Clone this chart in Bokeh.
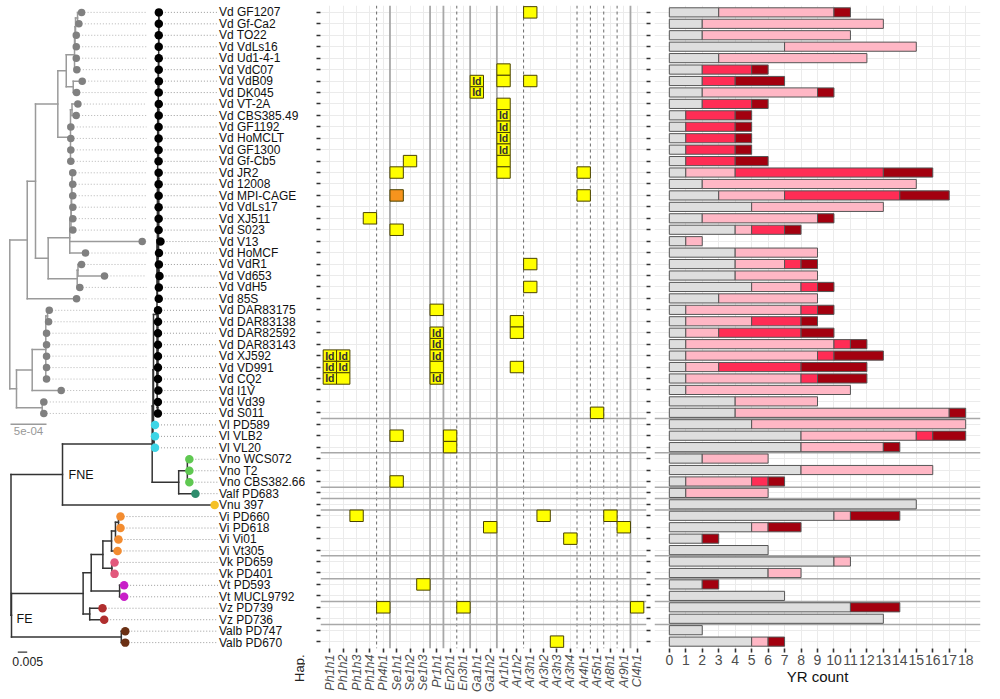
import math
from bokeh.plotting import figure
from bokeh.models import Range1d, FactorRange, FixedTicker, Span, LinearAxis
from bokeh.layouts import row
from bokeh.core.properties import value
from bokeh.embed import file_html
from bokeh.resources import INLINE

FONT = "Liberation Sans"

# ---------------------------------------------------------------- data
STRAINS = [
    "Vd GF1207", "Vd Gf-Ca2", "Vd TO22", "Vd VdLs16", "Vd Ud1-4-1", "Vd VdC07",
    "Vd VdB09", "Vd DK045", "Vd VT-2A", "Vd CBS385.49", "Vd GF1192", "Vd HoMCLT",
    "Vd GF1300", "Vd Gf-Cb5", "Vd JR2", "Vd 12008", "Vd MPI-CAGE", "Vd VdLs17",
    "Vd XJ511", "Vd S023", "Vd V13", "Vd HoMCF", "Vd VdR1", "Vd Vd653", "Vd VdH5",
    "Vd 85S", "Vd DAR83175", "Vd DAR83138", "Vd DAR82592", "Vd DAR83143",
    "Vd XJ592", "Vd VD991", "Vd CQ2", "Vd I1V", "Vd Vd39", "Vd S011",
    "Vl PD589", "Vl VLB2", "Vl VL20", "Vno WCS072", "Vno T2", "Vno CBS382.66",
    "Valf PD683", "Vnu 397", "Vi PD660", "Vi PD618", "Vi Vi01", "Vi Vt305",
    "Vk PD659", "Vk PD401", "Vt PD593", "Vt MUCL9792", "Vz PD739", "Vz PD736",
    "Valb PD747", "Valb PD670",
]

SPECIES_COLORS = {
    "Vd": "#000000", "Vl": "#3ed5e6", "Vno": "#5fc851", "Valf": "#2f8d6d",
    "Vnu": "#f5c125", "Vi": "#f38c30", "Vk": "#e2587c", "Vt": "#c81fc8",
    "Vz": "#b02e2e", "Valb": "#6b3014",
}

# YR counts per strain, by class (stacked left to right)
YR_GRAY = [3, 2, 2, 7, 3, 2, 2, 2, 2, 1, 1, 1, 1, 1, 1, 2, 3, 5, 2, 4,
           1, 4, 4, 4, 5, 3, 1, 1, 1, 1, 1, 1, 1, 1, 4, 4, 5, 8, 8,
           2, 8, 1, 1, 15, 10, 5, 2, 6, 10, 6, 2, 7, 11, 13, 2, 5]
YR_PINK = [7, 11, 9, 8, 9, 0, 0, 7, 0, 0, 0, 0, 0, 0, 3, 13, 4, 8, 7, 1,
           1, 5, 3, 5, 3, 6, 7, 4, 2, 9, 8, 2, 7, 10, 5, 13, 13, 7, 5,
           4, 8, 4, 5, 0, 1, 1, 0, 0, 1, 2, 0, 0, 0, 0, 0, 1]
YR_RED = [0, 0, 0, 0, 0, 3, 2, 0, 3, 3, 3, 3, 3, 3, 9, 0, 7, 0, 0, 2,
          0, 0, 1, 0, 1, 0, 1, 3, 5, 1, 1, 5, 1, 0, 0, 0, 0, 1, 0,
          0, 0, 1, 0, 0, 0, 0, 0, 0, 0, 0, 0, 0, 0, 0, 0, 0]
YR_DARK = [1, 0, 0, 0, 0, 1, 3, 1, 1, 1, 1, 1, 1, 2, 3, 0, 3, 0, 1, 1,
           0, 0, 1, 0, 1, 0, 1, 1, 2, 1, 3, 4, 3, 0, 0, 1, 0, 2, 1,
           0, 0, 1, 0, 0, 3, 2, 1, 0, 0, 0, 1, 0, 3, 0, 0, 1]
YR_CLASS_COLORS = ["#dedede", "#ffb7c5", "#ff2d55", "#a3000f"]
YR_TICKS = list(range(0, 19))

HAP_GENES = ["Ph1h1", "Ph1h2", "Ph1h3", "Ph1h4", "Ph4h1", "Se1h1", "Se1h2", "Se1h3",
             "Pr1h1", "En2h1", "En3h1", "Ga1h1", "Ga1h2", "Ar1h1", "Ar1h2", "Ar3h1",
             "Ar3h2", "Ar3h3", "Ar3h4", "Ar4h1", "Ar5h1", "Ar8h1", "Ar9h1", "Cl4h1"]

# (strain, haplotype, label, state)  state Y = yellow, O = orange
HAP_CELLS = [
    ("Vd GF1207", "Ar3h1", "", "Y"), ("Vd VdC07", "Ar1h1", "", "Y"),
    ("Vd VdB09", "Ga1h1", "Id", "Y"), ("Vd VdB09", "Ar1h1", "", "Y"),
    ("Vd VdB09", "Ar3h1", "", "Y"), ("Vd DK045", "Ga1h1", "Id", "Y"),
    ("Vd VT-2A", "Ar1h1", "", "Y"), ("Vd CBS385.49", "Ar1h1", "Id", "Y"),
    ("Vd GF1192", "Ar1h1", "Id", "Y"), ("Vd HoMCLT", "Ar1h1", "Id", "Y"),
    ("Vd GF1300", "Ar1h1", "Id", "Y"), ("Vd Gf-Cb5", "Se1h2", "", "Y"),
    ("Vd Gf-Cb5", "Ar1h1", "", "Y"), ("Vd JR2", "Se1h1", "", "Y"),
    ("Vd JR2", "Ar1h1", "", "Y"), ("Vd JR2", "Ar4h1", "", "Y"),
    ("Vd MPI-CAGE", "Se1h1", "", "O"), ("Vd MPI-CAGE", "Ar4h1", "", "Y"),
    ("Vd XJ511", "Ph1h4", "", "Y"), ("Vd S023", "Se1h1", "", "Y"),
    ("Vd VdR1", "Ar3h1", "", "Y"), ("Vd VdH5", "Ar3h1", "", "Y"),
    ("Vd DAR83175", "Pr1h1", "", "Y"), ("Vd DAR83138", "Ar1h2", "", "Y"),
    ("Vd DAR82592", "Pr1h1", "Id", "Y"), ("Vd DAR82592", "Ar1h2", "", "Y"),
    ("Vd DAR83143", "Pr1h1", "Id", "Y"), ("Vd XJ592", "Ph1h1", "Id", "Y"),
    ("Vd XJ592", "Ph1h2", "Id", "Y"), ("Vd XJ592", "Pr1h1", "Id", "Y"),
    ("Vd VD991", "Ph1h1", "Id", "Y"), ("Vd VD991", "Ph1h2", "Id", "Y"),
    ("Vd VD991", "Pr1h1", "", "Y"), ("Vd VD991", "Ar1h2", "", "Y"),
    ("Vd CQ2", "Ph1h1", "Id", "Y"), ("Vd CQ2", "Ph1h2", "", "Y"),
    ("Vd CQ2", "Pr1h1", "Id", "Y"), ("Vd S011", "Ar5h1", "", "Y"),
    ("Vl VLB2", "Se1h1", "", "Y"), ("Vl VLB2", "En2h1", "", "Y"),
    ("Vl VL20", "En2h1", "", "Y"), ("Vno CBS382.66", "Se1h1", "", "Y"),
    ("Vi PD660", "Ph1h3", "", "Y"), ("Vi PD660", "Ar3h2", "", "Y"),
    ("Vi PD660", "Ar8h1", "", "Y"), ("Vi PD618", "Ga1h2", "", "Y"),
    ("Vi PD618", "Ar9h1", "", "Y"), ("Vi Vi01", "Ar3h4", "", "Y"),
    ("Vt PD593", "Se1h3", "", "Y"), ("Vz PD739", "Ph4h1", "", "Y"),
    ("Vz PD739", "En3h1", "", "Y"), ("Vz PD739", "Cl4h1", "", "Y"),
    ("Valb PD670", "Ar3h3", "", "Y"),
]
HAP_STATE_COLORS = {"Y": "#ffff00", "O": "#f7941d"}

# Vd-only tree (child, parent, branch length in 1e-5 subs/site)
VD_TREE_EDGES = [
    ("gA", "gR", 24.2), ("gN", "gR", 9.3),
    ("gB", "gA", 11.5), ("Vd 85S", "gA", 68.5),
    ("gC", "gB", 31.0), ("gI", "gB", 17.6),
    ("gD", "gC", 11.7), ("gG", "gC", 17.6),
    ("gE1", "gD", 11.5), ("gF", "gD", 9.7),
    ("gE2", "gE1", 0.7), ("Vd Ud1-4-1", "gE1", 2.4), ("Vd VdC07", "gE1", 3.2),
    ("gE3", "gE2", 0.7), ("Vd VdLs16", "gE2", 1.7),
    ("gE4", "gE3", 2.8), ("Vd TO22", "gE3", 1.0),
    ("Vd GF1207", "gE4", 5.6), ("Vd Gf-Ca2", "gE4", 1.8),
    ("Vd VdB09", "gF", 12.5), ("Vd DK045", "gF", 4.6),
    ("gH", "gG", 2.1), ("Vd GF1192", "gG", 0.4), ("Vd HoMCLT", "gG", 0.4),
    ("Vd GF1300", "gG", 0.4), ("Vd Gf-Cb5", "gG", 0.4),
    ("Vd VT-2A", "gH", 8.1), ("Vd CBS385.49", "gH", 5.8),
    ("gJ", "gI", 30.0), ("gL", "gI", 40.3),
    ("gK1", "gJ", 1.7), ("Vd V13", "gJ", 100.6), ("Vd HoMCF", "gJ", 21.8),
    ("gK2", "gK1", 0.4), ("Vd S023", "gK1", 2.5),
    ("gK3", "gK2", 0.4), ("Vd XJ511", "gK2", 2.1),
    ("gK4", "gK3", 0.4), ("Vd VdLs17", "gK3", 1.7),
    ("gK5", "gK4", 0.4), ("Vd MPI-CAGE", "gK4", 1.2),
    ("Vd JR2", "gK5", 0.8), ("Vd 12008", "gK5", 0.8),
    ("gM", "gL", 1.1), ("Vd VdH5", "gL", 3.6),
    ("Vd VdR1", "gM", 4.9), ("Vd Vd653", "gM", 36.8),
    ("gO", "gN", 21.8), ("gS", "gN", 35.7),
    ("gP", "gO", 18.9), ("Vd I1V", "gO", 40.3),
    ("gQ", "gP", 2.4), ("Vd DAR82592", "gP", 1.0), ("Vd DAR83143", "gP", 1.0),
    ("Vd XJ592", "gP", 1.0), ("Vd VD991", "gP", 1.0), ("Vd CQ2", "gP", 1.0),
    ("Vd DAR83175", "gQ", 2.4), ("Vd DAR83138", "gQ", 1.4),
    ("Vd Vd39", "gS", 2.2), ("Vd S011", "gS", 2.2),
]

# Genus tree (child, parent, branch length in 1e-3 subs/site); "VD" = Vd clade
GENUS_TREE_EDGES = [
    ("bFNE", "bRoot", 27.4), ("bFE", "bRoot", 0.27),
    ("bT", "bFNE", 47.7), ("Vnu 397", "bFNE", 80.9),
    ("bU", "bT", 0.43), ("bW", "bT", 14.1),
    ("bU1", "bU", 0.27), ("bU2", "bU", 0.53),
    ("VD", "bU1", 1.86), ("Vl PD589", "bU1", 0.8),
    ("Vl VLB2", "bU2", 0.53), ("Vl VL20", "bU2", 0.53),
    ("bVno", "bW", 4.6), ("Valf PD683", "bW", 8.9),
    ("Vno WCS072", "bVno", 1.06), ("Vno T2", "bVno", 1.06), ("Vno CBS382.66", "bVno", 1.06),
    ("bF1", "bFE", 38.1), ("bValb", "bFE", 58.4),
    ("bE1", "bF1", 4.3), ("bVz", "bF1", 3.5),
    ("bD1", "bE1", 6.2), ("bVt", "bE1", 15.1),
    ("bViC", "bD1", 4.6), ("bVk", "bD1", 4.8),
    ("bViB", "bViC", 2.1), ("Vi Vt305", "bViC", 3.2),
    ("bViA", "bViB", 1.6), ("Vi Vi01", "bViB", 1.6),
    ("Vi PD660", "bViA", 1.06), ("Vi PD618", "bViA", 1.06),
    ("Vk PD659", "bVk", 1.4), ("Vk PD401", "bVk", 1.4),
    ("Vt PD593", "bVt", 2.4), ("Vt MUCL9792", "bVt", 2.4),
    ("Vz PD739", "bVz", 6.8), ("Vz PD736", "bVz", 7.7),
    ("Valb PD747", "bValb", 2.1), ("Valb PD670", "bValb", 2.1),
]

SCALE_BARS = [5e-4, 0.005]
SCALE_TEXT = ["5e-04", "0.005"]

# ---------------------------------------------------------------- layout constants
N = len(STRAINS)
TOP = 5
FH = 644                        # frame height of matrix and bar panels
BOTTOM = 46
TOTAL_H = TOP + FH + BOTTOM
ROW_PX = FH / (N + 0.2)
A_W = 305
VD_PX_PER_SUB = 36 / 5e-4
GENUS_PX_PER_SUB = 9.4 / 0.005
LABEL_X = 218.5
GRAY_LINK_END = 146

row_of = {s: i + 1 for i, s in enumerate(STRAINS)}


def page_y_to_row(py):
    return 0.4 + (py - TOP) / ROW_PX


def tree_from_edges(edges, unit):
    kids, blen = {}, {}
    for child, parent, length in edges:
        kids.setdefault(parent, []).append(child)
        blen[child] = length * unit
    root = next(p for p in kids if p not in blen)
    return kids, blen, root


def layout_tree(kids, blen, root, x_root, px_per_sub):
    pos, hs, vs = {}, [], []

    def rec(node, x):
        ch = kids.get(node)
        if ch:
            ys = []
            for c in ch:
                cx = x + blen[c] * px_per_sub
                cy = rec(c, cx)
                hs.append((x, cx, cy))
                ys.append(cy)
            y = sum(ys) / len(ys)
            vs.append((x, min(ys), max(ys)))
        else:
            y = row_of[node]
        pos[node] = (x, y)
        return y

    rec(root, x_root)
    return pos, hs, vs


vd_kids, vd_len, vd_root = tree_from_edges(VD_TREE_EDGES, 1e-5)
g_kids, g_len, g_root = tree_from_edges(GENUS_TREE_EDGES, 1e-3)
for k, v in vd_kids.items():
    g_kids["VD" if k == vd_root else k] = list(v)
g_len.update(vd_len)

vd_pos, vd_h, vd_v = layout_tree(vd_kids, vd_len, vd_root, 9.3, VD_PX_PER_SUB)
g_pos, g_h, g_v = layout_tree(g_kids, g_len, g_root, 10.5, GENUS_PX_PER_SUB)


def segs(h, v):
    x0 = [a for a, b, y in h] + [x for x, a, b in v]
    x1 = [b for a, b, y in h] + [x for x, a, b in v]
    y0 = [y for a, b, y in h] + [a for x, a, b in v]
    y1 = [y for a, b, y in h] + [b for x, a, b in v]
    return dict(x0=x0, x1=x1, y0=y0, y1=y1)


def no_labels(ax):
    ax.major_label_overrides = {i: "" for i in range(1, N + 1)}
    ax.major_label_standoff = 0


def style_axis(ax):
    ax.axis_line_color = None
    ax.major_tick_in = 0
    ax.major_tick_out = 4
    ax.major_tick_line_width = 1.6
    ax.major_tick_line_color = "#333333"
    ax.minor_tick_line_color = None


# ---------------------------------------------------------------- tree panel
# its frame spans the full height, so it must not be aligned with the others
pa = figure(width=A_W, height=TOTAL_H, x_range=Range1d(0, A_W),
            y_range=Range1d(page_y_to_row(TOTAL_H), 0.4), min_border_left=0,
            min_border_right=0, min_border_top=TOP, min_border_bottom=0,
            x_axis_location=None, y_axis_location=None,
            toolbar_location=None, output_backend="svg")
try:
    pa.frame_align = False
except Exception:
    pass
pa.outline_line_color = None
pa.grid.visible = False

vd_tips = [s for s in STRAINS if s in vd_pos]
# dotted links
pa.segment(x0=[vd_pos[s][0] for s in vd_tips], x1=[GRAY_LINK_END] * len(vd_tips),
           y0=[row_of[s] for s in vd_tips], y1=[row_of[s] for s in vd_tips],
           line_color="#b5b5b5", line_width=1, line_dash="1 2")
pa.segment(x0=[g_pos[s][0] for s in STRAINS], x1=[LABEL_X - 1] * N,
           y0=[row_of[s] for s in STRAINS], y1=[row_of[s] for s in STRAINS],
           line_color="#9a9a9a", line_width=1, line_dash="1 2")
# trees
pa.segment(**segs(vd_h, vd_v), line_color="#9a9a9a", line_width=1.5, line_cap="square")
pa.segment(**segs(g_h, g_v), line_color="#333333", line_width=1.5, line_cap="square")
pa.scatter(x=[vd_pos[s][0] for s in vd_tips], y=[row_of[s] for s in vd_tips],
           size=7.5, fill_color="#808080", line_color=None)
pa.scatter(x=[g_pos[s][0] for s in STRAINS], y=[row_of[s] for s in STRAINS],
           size=8.5, fill_color=[SPECIES_COLORS[s.split()[0]] for s in STRAINS],
           line_color=None)
# labels
pa.text(x=[LABEL_X] * N, y=[row_of[s] for s in STRAINS], text=STRAINS,
        text_baseline="middle", text_align="left", text_font=value(FONT),
        text_font_size=value("12px"), text_color="#111111")
# clade labels
pa.text(x=[g_pos["bFNE"][0] + 6, g_pos["bFE"][0] + 5],
        y=[g_pos["bFNE"][1], g_pos["bFE"][1] + 0.35], text=["FNE", "FE"],
        text_baseline="middle", text_align="left", text_font=value(FONT),
        text_font_size=value("12.5px"), text_color="#111111")
# scale bars
n_vd = len(vd_tips)
vd_bar_x0, g_bar_x0 = 10.0, 17.3
pa.segment(x0=[vd_bar_x0], x1=[vd_bar_x0 + SCALE_BARS[0] * VD_PX_PER_SUB],
           y0=[n_vd + 0.95], y1=[n_vd + 0.95], line_color="#9a9a9a", line_width=1.5)
pa.text(x=[vd_bar_x0 + SCALE_BARS[0] * VD_PX_PER_SUB / 2], y=[n_vd + 1.2],
        text=[SCALE_TEXT[0]], text_align="center", text_baseline="top",
        text_font=value(FONT), text_font_size=value("11.5px"), text_color="#999999")
g_bar_y = page_y_to_row(651.7)
pa.segment(x0=[g_bar_x0], x1=[g_bar_x0 + SCALE_BARS[1] * GENUS_PX_PER_SUB],
           y0=[g_bar_y], y1=[g_bar_y], line_color="#333333", line_width=1.2)
pa.text(x=[27.2], y=[page_y_to_row(660.7)], text=[SCALE_TEXT[1]],
        text_align="center", text_baseline="middle", text_font=value(FONT),
        text_font_size=value("12.3px"), text_color="#222222")
# "Hap." tag under the matrix
pa.text(x=[298.5], y=[page_y_to_row(TOP + FH + 5)], text=["Hap."], angle=math.pi / 2,
        text_align="right", text_baseline="middle", text_font=value(FONT),
        text_font_size=value("13px"), text_color="#222222")

# ---------------------------------------------------------------- haplotype matrix
B_LEFT, B_FW, B_RIGHT = 15, 326, 8
pb = figure(x_range=FactorRange(factors=HAP_GENES, range_padding=0.2,
                                range_padding_units="absolute"),
            y_range=Range1d(N + 0.6, 0.4), width=B_LEFT + B_FW + B_RIGHT,
            height=TOTAL_H, min_border_left=B_LEFT, min_border_right=B_RIGHT,
            min_border_top=TOP, min_border_bottom=BOTTOM,
            toolbar_location=None, output_backend="svg")
pb.outline_line_color = None
pb.yaxis.ticker = FixedTicker(ticks=list(range(1, N + 1)), minor_ticks=[])
no_labels(pb.yaxis[0])
# the row ticks on the right side belong to the bar panel in the reference
right_ticks = LinearAxis(ticker=FixedTicker(ticks=list(range(1, N + 1)), minor_ticks=[]))
no_labels(right_ticks)
pb.add_layout(right_ticks, "right")
for ax in list(pb.xaxis) + list(pb.yaxis):
    style_axis(ax)
pb.xaxis.major_label_orientation = math.pi / 2
pb.xaxis.major_label_text_font = FONT
pb.xaxis.major_label_text_font_style = "italic"
pb.xaxis.major_label_text_font_size = "12.5px"
pb.xaxis.major_label_text_color = "#4d4d4d"
pb.xaxis.major_label_standoff = 2
pb.grid.grid_line_color = "#ebebeb"
pb.grid.grid_line_width = 1

# family / gene separators
for k in range(1, len(HAP_GENES)):
    a, b = HAP_GENES[k - 1], HAP_GENES[k]
    if a[:2] != b[:2]:
        pb.add_layout(Span(location=k, dimension="height", line_color="#a8a8a8",
                           line_width=1.8, level="underlay"))
    elif a[:3] != b[:3]:
        pb.add_layout(Span(location=k, dimension="height", line_color="#6a6a6a",
                           line_width=1, line_dash="3 3", level="underlay"))

group_breaks = [i + 1.5 for i in range(N - 1)
                if STRAINS[i].split()[0] != STRAINS[i + 1].split()[0]]

for yb in group_breaks:
    pb.add_layout(Span(location=yb, dimension="width", line_color="#a8a8a8",
                       line_width=1.5, level="underlay"))

pb.rect(x=[c[1] for c in HAP_CELLS], y=[row_of[c[0]] for c in HAP_CELLS],
        width=1, height=1, fill_color=[HAP_STATE_COLORS[c[3]] for c in HAP_CELLS],
        line_color="#4a4300", line_width=1)
id_cells = [c for c in HAP_CELLS if c[2]]
pb.text(x=[c[1] for c in id_cells], y=[row_of[c[0]] for c in id_cells],
        text=[c[2] for c in id_cells], text_align="center", text_baseline="middle",
        text_font=value(FONT), text_font_style="bold",
        text_font_size=value("10.5px"), text_color="#333333")

# ---------------------------------------------------------------- YR bars
C_FW, C_RIGHT = 326, 8
pc = figure(x_range=Range1d(-0.9, 18.9), y_range=Range1d(N + 0.6, 0.4),
            width=C_FW + C_RIGHT, height=TOTAL_H, y_axis_location=None,
            min_border_left=0, min_border_right=C_RIGHT, min_border_top=TOP,
            min_border_bottom=BOTTOM, toolbar_location=None, output_backend="svg")
pc.outline_line_color = None
pc.xaxis.ticker = FixedTicker(ticks=YR_TICKS, minor_ticks=[])
for ax in pc.xaxis:
    style_axis(ax)
pc.xaxis.major_label_text_font = FONT
pc.xaxis.major_label_text_font_size = "14px"
pc.xaxis.major_label_text_color = "#4d4d4d"
pc.xaxis.major_label_standoff = 2
pc.xaxis.axis_label = "YR count"
pc.xaxis.axis_label_text_font = FONT
pc.xaxis.axis_label_text_font_style = "normal"
pc.xaxis.axis_label_text_font_size = "15px"
pc.xaxis.axis_label_text_color = "#111111"
pc.xaxis.axis_label_standoff = 0
pc.xgrid.grid_line_color = "#ebebeb"
pc.ygrid.ticker = FixedTicker(ticks=list(range(1, N + 1)), minor_ticks=[])
pc.ygrid.grid_line_color = "#ebebeb"
for yb in group_breaks:
    pc.add_layout(Span(location=yb, dimension="width", line_color="#a8a8a8",
                       line_width=1.5, level="underlay"))

bar_y, bar_l, bar_r, bar_c = [], [], [], []
for i, s in enumerate(STRAINS):
    left = 0
    for cnt, col in zip((YR_GRAY[i], YR_PINK[i], YR_RED[i], YR_DARK[i]), YR_CLASS_COLORS):
        if cnt > 0:
            bar_y.append(row_of[s])
            bar_l.append(left)
            bar_r.append(left + cnt)
            bar_c.append(col)
        left += cnt
pc.hbar(y=bar_y, left=bar_l, right=bar_r, height=0.8, fill_color=bar_c,
        line_color="#555555", line_width=1)

layout = row(pa, pb, pc)
open("out.html", "w").write(file_html(layout, INLINE))
